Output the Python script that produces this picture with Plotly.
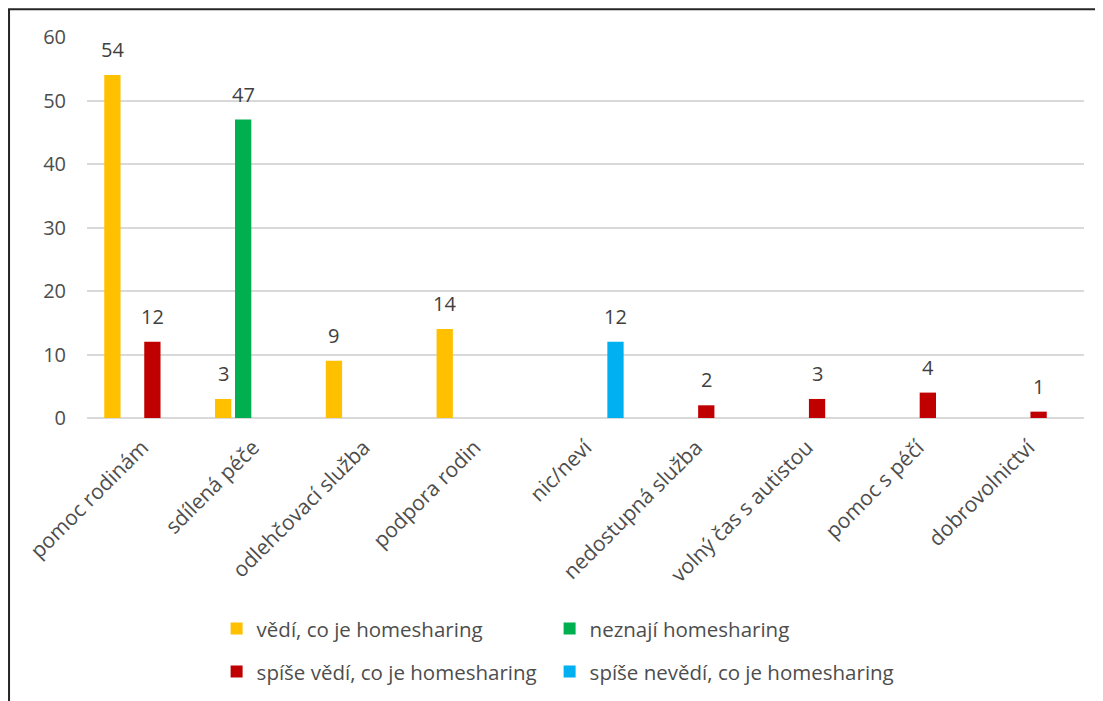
import plotly.graph_objects as go

categories = ["pomoc rodinám", "sdílená péče", "odlehčovací služba", "podpora rodin",
              "nic/neví", "nedostupná služba", "volný čas s autistou", "pomoc s péčí",
              "dobrovolnictví"]

series_names = ["vědí, co je homesharing", "neznají homesharing",
                "spíše vědí, co je homesharing", "spíše nevědí, co je homesharing"]

vedi = [54, 3, 9, 14, None, None, None, None, None]
neznaji = [None, 47, None, None, None, None, None, None, None]
spise_vedi = [12, None, None, None, None, 2, 3, 4, 1]
spise_nevedi = [None, None, None, None, 12, None, None, None, None]

series_values = [vedi, neznaji, spise_vedi, spise_nevedi]
colors = ["#FFC000", "#00B050", "#C00000", "#00B0F0"]

y_ticks = [0, 10, 20, 30, 40, 50, 60]

FONT = "Open Sans"
TXT = "#4d4d4d"
legend_ids = ["legend", "legend2", "legend3", "legend4"]

fig = go.Figure()
for i, (name, vals, col) in enumerate(zip(series_names, series_values, colors)):
    fig.add_trace(go.Bar(
        x=categories, y=vals, name=name, marker=dict(color=col, line=dict(width=0)),
        legend=legend_ids[i],
        hoverinfo="x+y+name",
    ))

# data labels (derived from the data), offset to each bar slot in the group
slot_shift = [-30, -10, 10, 30]
annotations = []
for i, vals in enumerate(series_values):
    for cat, v in zip(categories, vals):
        if v is None:
            continue
        annotations.append(dict(
            x=cat, y=v, xref="x", yref="y", text=str(v), showarrow=False,
            xanchor="center", yanchor="bottom", xshift=slot_shift[i], yshift=10,
            font=dict(family=FONT, size=20, color="#404040"),
        ))

# legend grid: 2 columns x 2 rows
leg_x = [0.130, 0.464, 0.130, 0.464]
leg_y = [-0.553, -0.553, -0.666, -0.666]
legends = {}
for lid, lx, ly in zip(legend_ids, leg_x, leg_y):
    legends[lid] = dict(orientation="h", x=lx, xanchor="left", y=ly, yanchor="middle",
                        font=dict(family=FONT, size=20.5, color=TXT),
                        bgcolor="rgba(0,0,0,0)")

fig.update_layout(
    width=1095, height=693,
    margin=dict(l=79, r=19, t=29, b=283, pad=0, autoexpand=False),
    paper_bgcolor="white", plot_bgcolor="white",
    barmode="group", bargap=0.278, bargroupgap=0.185,
    font=dict(family=FONT, size=20, color=TXT),
    annotations=annotations,
    showlegend=True,
    shapes=[dict(type="path", xref="paper", yref="paper",
                 path="M -0.0782,-0.9 L -0.0782,1.0727 L 1.05,1.0727",
                 line=dict(color="#262626", width=2))],
    **legends,
)
fig.update_xaxes(tickangle=-45, showgrid=False, showline=False, ticks="",
                 ticklabelstandoff=12,
                 tickfont=dict(family=FONT, size=21, color=TXT))
fig.update_yaxes(range=[0, 60], tickvals=y_ticks, showgrid=True, gridcolor="#D9D9D9",
                 gridwidth=1.5, zeroline=True, zerolinecolor="#D9D9D9", zerolinewidth=1.5,
                 showline=False, ticks="", ticklabelstandoff=20,
                 tickfont=dict(family=FONT, size=20, color=TXT))

fig.write_html("out.html")
